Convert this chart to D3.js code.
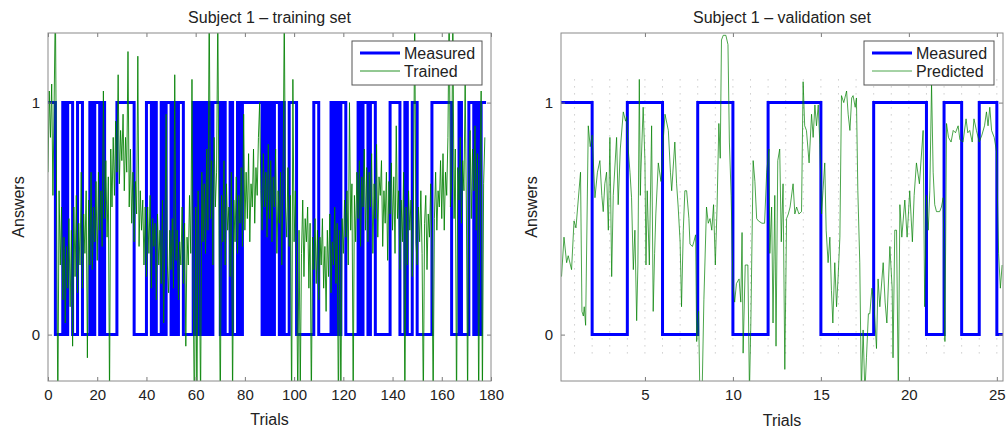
<!DOCTYPE html>
<html>
<head>
<meta charset="utf-8">
<script src="https://cdn.jsdelivr.net/npm/d3@7"></script>
<style>
  body { margin: 0; background: #fff; }
  svg text { font-family: "Liberation Sans", Arial, Helvetica, sans-serif; fill: #222; }
</style>
</head>
<body>
<div id="container"></div>
<script>
//DATA - training set, measured answer per trial (0..177)
const trainMeasured = [
  1,1,1,0,0,0,1,0,1,1,
  0,0,1,1,0,0,0,1,0,1,
  1,0,1,0,0,0,0,0,1,1,
  1,1,1,1,1,0,0,0,0,0,
  1,1,0,1,0,0,1,0,1,1,
  0,1,0,1,1,0,0,0,0,1,
  0,1,0,1,0,1,0,1,1,1,
  0,1,0,0,1,0,0,1,0,1,
  1,1,1,1,1,1,1,0,1,0,
  1,0,1,1,0,1,0,0,1,1,
  1,0,0,0,0,0,0,0,1,1,
  0,0,0,0,0,1,0,1,0,1,
  1,0,0,0,0,0,1,0,1,1,
  0,1,1,0,0,0,0,0,0,1,
  1,1,1,0,0,1,0,0,1,1,
  0,0,0,0,0,0,1,1,1,1,
  1,1,1,1,0,0,0,1,0,0,
  0,1,1,0,1,0,1,1
]

//DATA - training set, network output, two samples per trial
const trainOutput = [
  0.70, 1.05, 0.85, 1.08, 0.60, 1.00, 1.45, 0.55, -0.35, 0.62, 0.30, 0.55, 0.15, 0.42, 0.05, 0.38, 0.20, 0.50, 0.12, 0.45,
  -0.05, 0.55, 0.25, 0.60, 0.18, 0.48, 0.30, 0.70, 0.20, 0.52, 0.35, 0.62, -0.10, 0.58, 0.30, 0.70, 0.28, 0.55, 0.40, 0.66,
  0.32, 0.70, 0.45, 0.62, 0.38, 1.05, 0.50, 0.75, 0.42, 0.68, -0.30, 0.80, 0.55, 0.85, 0.60, 0.92, 0.70, 1.12, 0.65, 0.88,
  0.75, 0.95, 0.62, 0.85, 0.70, 1.22, 0.55, 0.80, 0.48, 0.70, 0.40, 0.66, 0.52, 1.20, 0.38, 0.62, 0.45, 0.58, 0.30, 0.55,
  0.25, 0.55, 0.35, 0.60, 0.20, 0.50, 0.38, 0.48, 0.15, 0.52, 0.30, 0.45, 0.22, 0.58, 0.05, 0.40, 0.95, 0.30, 0.18, 0.45,
  0.28, 0.50, 0.20, 1.12, 0.32, 0.45, 0.15, 0.40, 0.30, 0.55, 0.22, 0.48, -0.05, 0.42, 0.30, 0.60, 0.35, 1.10, 0.20, -0.40,
  0.55, -0.35, 0.62, 0.30, -0.30, 0.70, 0.40, 0.65, 0.35, 0.80, 0.45, 1.45, 0.50, 0.75, 0.30, 0.85, 0.55, 0.70, 1.40, 0.45,
  -0.35, 0.60, 0.40, 0.75, 0.30, 0.65, 0.45, 0.55, 0.25, 0.70, -0.30, 0.58, 0.40, 0.68, 0.35, 0.60, 0.48, 0.72, 0.38, 0.95,
  0.45, 0.70, 0.50, 0.78, 0.40, 0.65, 0.55, 0.80, 0.48, 0.72, 0.60, 0.85, 1.00, 0.62, 0.45, 0.78, 0.55, 0.70, 0.42, 0.82,
  0.50, 0.75, 0.40, 0.68, 0.55, 0.80, 0.35, 0.62, 0.48, 0.70, 0.30, 0.65, 1.40, 0.55, 0.42, 0.72, 0.38, 0.60, -0.35, 1.10,
  0.40, 0.62, 0.30, -0.30, 0.45, -0.25, 0.35, 0.58, 0.25, 0.50, 0.40, 0.55, 0.20, 0.48, -0.30, 0.42, 0.28, 0.50, 0.22, 0.45,
  0.15, 0.42, 0.30, 0.50, 0.20, 0.38, 0.10, 0.45, 0.25, 0.52, 0.18, 0.40, 0.30, 0.55, 0.22, 0.48, -0.35, 0.45, -0.30, 0.50,
  0.35, 0.58, 0.42, 0.62, 0.30, 1.00, 0.45, 0.65, -0.30, 0.60, 0.40, 0.70, 0.50, 0.75, 0.38, 0.68, 0.55, 0.80, 0.45, 0.72,
  0.40, 0.70, 0.55, 0.78, 0.35, 0.65, 0.50, 0.82, 0.42, 0.68, 0.60, 0.75, 0.38, 0.62, 0.48, 0.70, 0.32, 0.66, 0.52, 0.74,
  0.45, 0.68, 0.35, 0.90, 0.50, 0.62, 0.28, 0.58, 0.40, 0.70, -0.35, 0.55, 0.30, 0.62, 0.45, 0.58, 0.25, 0.55, 1.40, 0.40,
  0.30, 0.55, 0.40, 0.62, 0.35, -0.30, 0.48, 0.60, 0.28, 0.52, 0.42, 0.65, 0.38, -0.30, 0.50, 0.70, 0.45, 0.62, 0.55, 0.75,
  0.50, 0.78, 0.45, 0.70, 0.60, 0.85, 1.45, 0.55, 0.65, 1.40, 0.50, 0.80, -0.35, 0.72, 0.58, 0.85, 0.48, 0.75, 0.62, 1.10,
  0.55, -0.30, 0.70, 0.88, 0.50, 0.80, 0.62, 0.90, 0.45, 0.78, -0.35, 0.70, 1.05, -0.30, 0.65, 0.85
]

//DATA - validation set, measured answer per trial (0..25)
const validMeasured = [1,1,0,0,1,1,0,0,1,1,0,0,1,1,1,0,0,0,1,1,1,0,1,0,1,0]

//DATA - validation set, prediction (trial position, value)
const validX = [
  0.26, 0.40, 0.55, 0.64, 0.83, 0.97, 1.08, 1.34, 1.42, 1.50, 1.55, 1.63, 1.78, 1.89, 2.00, 2.16, 2.30, 2.44, 2.55, 2.63,
  2.72, 2.82, 2.92, 3.01, 3.11, 3.20, 3.39, 3.48, 3.60, 3.77, 3.90, 3.96, 4.05, 4.15, 4.24, 4.34, 4.43, 4.53, 4.60, 4.68,
  4.74, 4.77, 4.90, 5.00, 5.06, 5.13, 5.25, 5.38, 5.47, 5.55, 5.62, 5.76, 5.91, 6.05, 6.14, 6.33, 6.45, 6.52, 6.70, 6.80,
  6.89, 7.00, 7.08, 7.18, 7.27, 7.37, 7.50, 7.56, 7.70, 7.78, 7.88, 7.94, 8.05, 8.12, 8.25, 8.35, 8.50, 8.60, 8.70, 8.80,
  8.90, 9.00, 9.10, 9.20, 9.28, 9.35, 9.45, 9.60, 9.72, 9.80, 9.90, 10.00, 10.10, 10.20, 10.35, 10.45, 10.52, 10.58, 10.70, 10.85,
  10.94, 11.02, 11.15, 11.25, 11.35, 11.45, 11.65, 11.80, 11.92, 12.05, 12.10, 12.20, 12.28, 12.38, 12.45, 12.55, 12.66, 12.75, 12.85, 12.95,
  13.05, 13.15, 13.25, 13.42, 13.52, 13.62, 13.75, 13.90, 13.99, 14.08, 14.18, 14.33, 14.47, 14.56, 14.66, 14.75, 14.85, 14.94, 15.04, 15.12,
  15.22, 15.30, 15.41, 15.51, 15.60, 15.68, 15.79, 15.89, 15.98, 16.08, 16.17, 16.30, 16.46, 16.55, 16.65, 16.75, 16.83, 16.95, 17.02, 17.10,
  17.21, 17.30, 17.40, 17.50, 17.59, 17.70, 17.78, 17.90, 18.00, 18.16, 18.25, 18.35, 18.54, 18.65, 18.75, 18.92, 19.05, 19.10, 19.20, 19.30,
  19.40, 19.49, 19.60, 19.77, 19.90, 20.05, 20.20, 20.30, 20.43, 20.60, 20.81, 20.90, 21.00, 21.10, 21.19, 21.29, 21.38, 21.47, 21.57, 21.75,
  21.85, 21.95, 22.05, 22.14, 22.25, 22.40, 22.52, 22.65, 22.80, 22.90, 23.08, 23.25, 23.35, 23.46, 23.60, 23.70, 23.84, 24.00, 24.15, 24.30,
  24.41, 24.50, 24.60, 24.70, 24.85, 24.98, 25.10, 25.20, 25.30
]
const validY = [
  0.25, 0.42, 0.31, 0.34, 0.28, 0.49, 0.46, 0.70, 0.10, 0.08, 0.12, 0.04, 0.90, 0.81, 0.86, 0.59, 0.70, 0.75, 0.60, 0.53,
  0.65, 0.70, 0.45, 0.85, 0.25, 0.60, 0.85, 0.56, 0.80, 0.96, 0.92, 0.94, 0.80, 0.70, 0.59, 0.28, 0.45, 0.06, 0.30, 1.10,
  0.60, 0.70, 0.98, 0.75, 0.30, 0.62, 0.30, 0.90, 0.10, 0.35, 0.52, 0.74, 0.66, 0.85, 0.95, 0.88, 0.70, 0.62, 0.83, 0.65,
  0.55, 0.40, 0.12, 0.45, 0.62, 0.62, 0.50, 0.39, 0.38, 0.40, 0.43, -0.03, 0.10, -0.25, -0.25, 0.15, 0.55, 0.48, 0.50, 0.45,
  0.56, 0.30, 0.55, 0.91, 0.76, 1.27, 1.29, 1.29, 1.25, 0.83, 0.60, 0.22, 0.14, 0.22, 0.24, 0.14, 0.44, -0.08, 0.30, 0.30,
  -0.25, 0.05, 0.75, 0.66, 0.50, 0.49, 0.48, 0.48, 0.70, 0.80, 0.35, 0.55, 0.05, 0.60, -0.05, 0.75, 0.80, 0.40, 0.65, -0.15,
  0.50, 0.52, 0.55, 0.65, 0.52, 0.55, 0.52, 0.53, 1.09, 0.90, 0.88, 0.74, 0.95, 0.85, 0.99, 0.90, 0.99, 0.82, 0.52, 0.62,
  0.74, 0.45, 0.31, 0.42, 0.19, 0.05, 0.31, 0.12, 0.25, 0.42, 1.03, 1.00, 1.05, 0.95, 0.88, 1.02, 1.03, 0.98, 1.02, 0.62,
  0.31, -0.25, 0.02, -0.25, -0.10, 0.09, 0.09, 0.20, 0.15, -0.06, 0.24, 0.12, 0.31, 0.14, 0.05, 0.38, 0.20, -0.10, 0.45, 0.45,
  -0.25, 0.56, 0.42, 0.58, 0.42, 0.62, 0.40, 0.60, 0.74, 0.65, 0.88, 0.12, 0.60, 0.45, 0.62, 1.08, 0.70, 0.56, 0.53, 0.53,
  0.55, 0.59, -0.03, 0.91, 0.85, 0.83, 0.88, 0.87, 0.90, 0.84, 0.83, 0.93, 0.87, 0.88, 0.83, 0.93, 0.88, 0.83, 0.86, 0.90,
  0.96, 0.90, 0.98, 0.88, 0.85, 0.79, 0.35, 0.20, 0.30
]

//TICKS AND LABELS
const trainTicks = [0, 20, 40, 60, 80, 100, 120, 140, 160, 180]
const validTicks = [5, 10, 15, 20, 25]
const answerTicks = [0, 1]
const panels = [
  { title: 'Subject 1 \u2013 training set', legend: ['Measured', 'Trained'], greenOpacity: 0.85 },
  { title: 'Subject 1 \u2013 validation set', legend: ['Measured', 'Predicted'], greenOpacity: 0.7 }
]

//BOX
const w = 1006
const h = 428
const plotTop = 33
const plotBottom = 381
const blue = '#0000ff'
const green = '#008000'

const svg = d3.select('#container')
  .append('svg')
  .attr('width', w)
  .attr('height', h)

//SCALES
const yscale = d3.scaleLinear().domain([-0.2, 1.3]).range([plotBottom, plotTop])
const xTrain = d3.scaleLinear().domain([0, 180]).range([48, 491])
const xValid = d3.scaleLinear().domain([0.23, 25.35]).range([561, 1003])

//step points of a measured series, last value held one more trial
function stepPoints(values, last) {
  const pts = values.map((v, i) => [i, v])
  pts.push([last, values[values.length - 1]])
  return pts
}

function drawPanel(idx, xscale, xticks, measuredPts, outputPts, xlabelY) {
  const x0 = xscale.range()[0]
  const x1 = xscale.range()[1]
  const g = svg.append('g')
  const cid = 'clip' + idx

  g.append('clipPath')
    .attr('id', cid)
    .append('rect')
    .attr('x', x0)
    .attr('y', plotTop)
    .attr('width', x1 - x0)
    .attr('height', plotBottom - plotTop)

  //DOTTED GRID (validation panel)
  if (idx === 1) {
    g.append('g')
      .selectAll('line')
      .data(d3.range(1, 26))
      .enter()
      .append('line')
      .attr('x1', d => xscale(d))
      .attr('x2', d => xscale(d))
      .attr('y1', yscale(1.1))
      .attr('y2', yscale(-0.1))
      .attr('stroke', '#b5b5b5')
      .attr('stroke-width', 1)
      .attr('stroke-dasharray', '1,6')
  }

  const plot = g.append('g').attr('clip-path', 'url(#' + cid + ')')

  plot.append('path')
    .datum(measuredPts)
    .attr('d', d3.line().x(d => xscale(d[0])).y(d => yscale(d[1])).curve(d3.curveStepAfter))
    .attr('fill', 'none')
    .attr('stroke', blue)
    .attr('stroke-width', 3)

  plot.append('path')
    .datum(outputPts)
    .attr('d', d3.line().x(d => xscale(d[0])).y(d => yscale(d[1])))
    .attr('fill', 'none')
    .attr('stroke', green)
    .attr('stroke-opacity', panels[idx].greenOpacity)
    .attr('stroke-width', 1)

  //AXES
  g.append('g')
    .attr('transform', 'translate(0,' + plotBottom + ')')
    .call(d3.axisBottom(xscale).tickValues(xticks).tickSize(-4).tickPadding(8).tickFormat(d3.format('d')))
    .call(a => a.select('.domain').remove())
  g.append('g')
    .attr('transform', 'translate(0,' + plotTop + ')')
    .call(d3.axisTop(xscale).tickValues(xticks).tickSize(-4).tickFormat(''))
    .call(a => a.select('.domain').remove())
  g.append('g')
    .attr('transform', 'translate(' + x0 + ',0)')
    .call(d3.axisLeft(yscale).tickValues(answerTicks).tickSize(-4).tickPadding(8).tickFormat(d3.format('d')))
    .call(a => a.select('.domain').remove())
  g.append('g')
    .attr('transform', 'translate(' + x1 + ',0)')
    .call(d3.axisRight(yscale).tickValues(answerTicks).tickSize(-4).tickFormat(''))
    .call(a => a.select('.domain').remove())
  g.selectAll('.tick line').attr('stroke', '#7a7a7a')
  g.selectAll('.tick text')
    .attr('font-size', 15)
    .attr('font-family', '"Liberation Sans", Arial, sans-serif')
    .attr('fill', '#222')

  g.append('rect')
    .attr('x', x0)
    .attr('y', plotTop)
    .attr('width', x1 - x0)
    .attr('height', plotBottom - plotTop)
    .attr('fill', 'none')
    .attr('stroke', '#8a8a8a')
    .attr('stroke-width', 1)

  //TITLES
  const cx = (x0 + x1) / 2
  g.append('text')
    .attr('x', cx)
    .attr('y', 23)
    .attr('text-anchor', 'middle')
    .attr('font-size', 16)
    .text(panels[idx].title)
  g.append('text')
    .attr('x', cx)
    .attr('y', xlabelY)
    .attr('text-anchor', 'middle')
    .attr('font-size', 16)
    .text('Trials')
  g.append('text')
    .attr('transform', 'translate(' + (x0 - 24) + ',' + ((plotTop + plotBottom) / 2) + ') rotate(-90)')
    .attr('text-anchor', 'middle')
    .attr('font-size', 16)
    .text('Answers')

  //LEGEND
  const lx = x1 - 139
  const lg = g.append('g').attr('transform', 'translate(' + lx + ',41)')
  lg.append('rect')
    .attr('width', 130)
    .attr('height', 44)
    .attr('fill', '#fff')
    .attr('stroke', '#555')
    .attr('stroke-width', 1)
  const items = [[blue, 3], [green, 1]]
  items.forEach((it, i) => {
    lg.append('line')
      .attr('x1', 8)
      .attr('x2', 48)
      .attr('y1', 12 + i * 18)
      .attr('y2', 12 + i * 18)
      .attr('stroke', it[0])
      .attr('stroke-opacity', i === 1 ? panels[idx].greenOpacity : 1)
      .attr('stroke-width', it[1])
    lg.append('text')
      .attr('x', 52)
      .attr('y', 18 + i * 18)
      .attr('font-size', 16)
      .text(panels[idx].legend[i])
  })
}

drawPanel(0, xTrain, trainTicks,
  stepPoints(trainMeasured, trainMeasured.length),
  trainOutput.map((v, i) => [i / 2, v]), 425)

drawPanel(1, xValid, validTicks,
  stepPoints(validMeasured, 25.35),
  validX.map((x, i) => [x, validY[i]]), 426)
</script>
</body>
</html>
